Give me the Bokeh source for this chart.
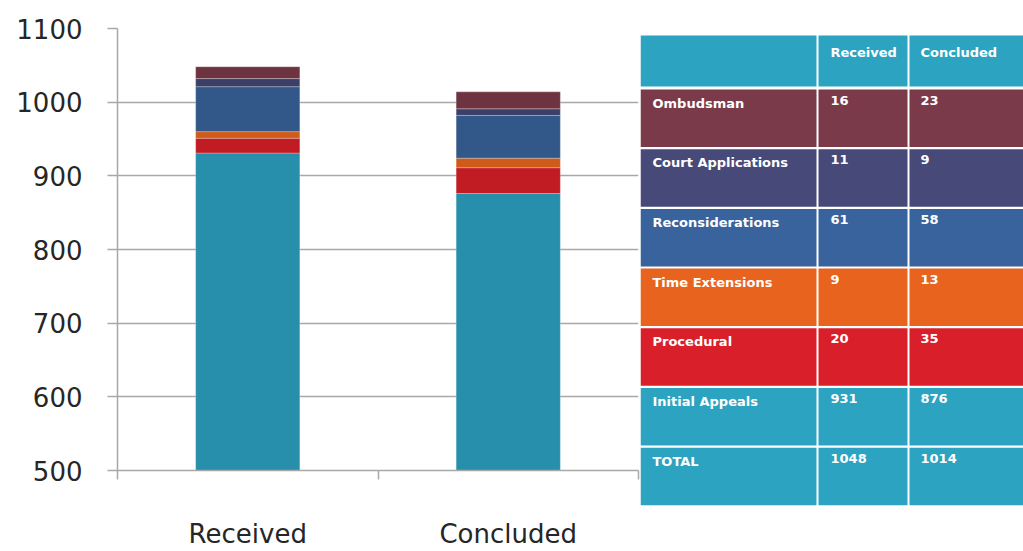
from bokeh.plotting import figure
from bokeh.models import Range1d, FixedTicker, ColumnDataSource
from bokeh.layouts import row, column
from bokeh.embed import file_html
from bokeh.resources import INLINE
from bokeh.core.properties import value

# ---- data ----
categories = ["Received", "Concluded"]
series = ["Initial Appeals", "Procedural", "Time Extensions",
          "Reconsiderations", "Court Applications", "Ombudsman"]
initial_appeals = [931, 876]
procedural = [20, 35]
time_extensions = [9, 13]
reconsiderations = [61, 58]
court_applications = [11, 9]
ombudsman = [16, 23]
totals = [1048, 1014]
y_ticks = [500, 600, 700, 800, 900, 1000, 1100]

bar_colors = ["#278FAB", "#C11B24", "#CF5A1A", "#325889", "#3C3F68", "#6D3340"]
table_colors = {"header": "#2CA3C0", "Ombudsman": "#7B3A4A",
                "Court Applications": "#474A78", "Reconsiderations": "#39639C",
                "Time Extensions": "#E8641E", "Procedural": "#D91F2A",
                "Initial Appeals": "#2CA3C0", "TOTAL": "#2CA3C0"}

# ---- chart ----
xs = [i + 0.5 for i in range(len(categories))]
src = ColumnDataSource(dict(x=xs,
                            **{"Initial Appeals": initial_appeals,
                               "Procedural": procedural,
                               "Time Extensions": time_extensions,
                               "Reconsiderations": reconsiderations,
                               "Court Applications": court_applications,
                               "Ombudsman": ombudsman}))

p = figure(width=640, height=551, output_backend="svg", toolbar_location=None,
           x_range=Range1d(0, len(categories)), y_range=Range1d(500, 1100),
           min_border_left=117, min_border_right=2, min_border_top=28,
           min_border_bottom=81)
p.outline_line_color = None
p.vbar_stack(series, x="x", width=0.4, source=src, color=bar_colors,
             line_color="white", line_alpha=0.25, line_width=1)

grid_col = "#A8A8A8"
p.xgrid.grid_line_color = None
p.ygrid.grid_line_color = grid_col
p.ygrid.grid_line_width = 1.5
p.ygrid.ticker = FixedTicker(ticks=y_ticks)

ya = p.yaxis[0]
ya.ticker = FixedTicker(ticks=y_ticks)
ya.axis_line_color = grid_col
ya.axis_line_width = 1.5
ya.major_tick_line_color = grid_col
ya.major_tick_line_width = 1.5
ya.major_tick_out = 10
ya.major_tick_in = 0
ya.minor_tick_line_color = None
ya.major_label_standoff = 25
ya.major_label_text_font = "DejaVu Sans"
ya.major_label_text_font_size = "26px"
ya.major_label_text_color = "#262626"

xa = p.xaxis[0]
xa.ticker = FixedTicker(ticks=xs, minor_ticks=list(range(len(categories) + 1)))
xa.major_label_overrides = {x: c for x, c in zip(xs, categories)}
xa.axis_line_color = grid_col
xa.axis_line_width = 1.5
xa.major_tick_line_color = None
xa.major_tick_out = 0
xa.major_tick_in = 0
xa.minor_tick_line_color = grid_col
xa.minor_tick_line_width = 1.5
xa.minor_tick_out = 0
xa.minor_tick_in = -9
xa.major_label_standoff = 48
xa.major_label_text_font = "DejaVu Sans"
xa.major_label_text_font_size = "26px"
xa.major_label_text_color = "#262626"

# ---- table (coordinates in page pixels) ----
t = figure(width=383, height=551, output_backend="svg", toolbar_location=None,
           x_range=Range1d(0, 383), y_range=Range1d(551, 0),
           x_axis_type=None, y_axis_type=None, min_border=0)
t.outline_line_color = None
t.grid.visible = False

table_rows = ["Ombudsman", "Court Applications", "Reconsiderations",
              "Time Extensions", "Procedural", "Initial Appeals", "TOTAL"]
recv_col = ombudsman[:1] + court_applications[:1] + reconsiderations[:1] + \
    time_extensions[:1] + procedural[:1] + initial_appeals[:1] + totals[:1]
conc_col = ombudsman[1:] + court_applications[1:] + reconsiderations[1:] + \
    time_extensions[1:] + procedural[1:] + initial_appeals[1:] + totals[1:]

col_left = [0, 178, 269]
col_right = [176, 267, 383]
head_top, head_bot = 35, 86
row_top0, row_pitch, row_h = 89, 59.7, 57.5

L, R, T, B, C = [], [], [], [], []
tx, ty, tt = [], [], []
for c in range(3):
    L.append(col_left[c]); R.append(col_right[c]); T.append(head_top); B.append(head_bot)
    C.append(table_colors["header"])
tx += [col_left[1] + 12, col_left[2] + 11]
ty += [head_top + 9, head_top + 9]
tt += ["Received", "Concluded"]
for i, name in enumerate(table_rows):
    top = row_top0 + row_pitch * i
    for c in range(3):
        L.append(col_left[c]); R.append(col_right[c]); T.append(top); B.append(top + row_h)
        C.append(table_colors[name])
    tx += [col_left[0] + 12, col_left[1] + 12, col_left[2] + 11]
    ty += [top + 6] * 3
    tt += [name, str(recv_col[i]), str(conc_col[i])]

t.quad(left=L, right=R, top=T, bottom=B, fill_color=C, line_color=None)
t.text(x=tx, y=ty, text=tt, text_color="white", text_font=value("DejaVu Sans"),
       text_font_style="bold", text_font_size="13px", text_baseline="top",
       text_align="left")

layout = row(p, column(t, spacing=0), spacing=0)
open("out.html", "w").write(file_html(layout, INLINE))
